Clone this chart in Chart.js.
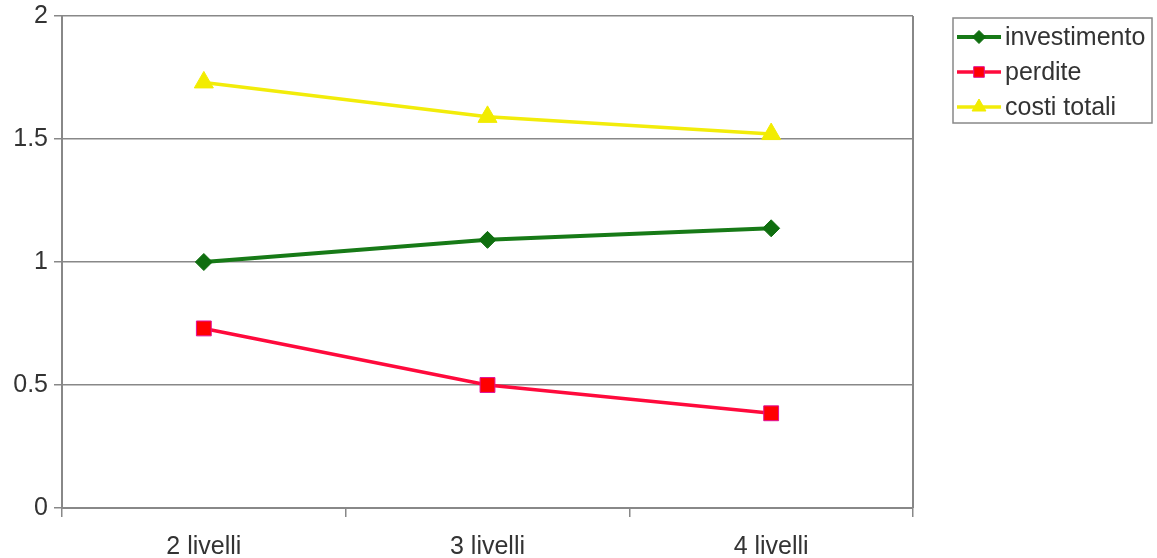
<!DOCTYPE html>
<html>
<head>
<meta charset="utf-8">
<script src="https://cdn.jsdelivr.net/npm/chart.js@4/dist/chart.umd.min.js"></script>
<style>
  html, body { margin: 0; padding: 0; background: #ffffff; }
  #c { display: block; }
</style>
</head>
<body>
<canvas id="c" width="1157" height="558"></canvas>
<script>
// Categories and series
const categories = ['2 livelli', '3 livelli', '4 livelli'];
const investimento = [1.0, 1.09, 1.137];
const perdite = [0.73, 0.5, 0.385];
const costiTotali = [1.73, 1.59, 1.52];
const yTicks = [0, 0.5, 1, 1.5, 2];

const FONT = '"Liberation Sans", Arial, Helvetica, sans-serif';
const TEXT = '#333333';
const GRID = '#888888';

// Legend marker sizes (smaller than the plotted markers)
const legendRadius = { rectRot: 6.5, rect: 7.5, triangle: 8 };

// Boxed legend at top right, each row shows a line sample with its marker
const boxedLegend = {
  id: 'boxedLegend',
  afterDraw(chart) {
    const ctx = chart.ctx;
    const x0 = 953, y0 = 18, w = 199, h = 105;
    ctx.save();
    ctx.fillStyle = '#ffffff';
    ctx.fillRect(x0, y0, w, h);
    ctx.strokeStyle = GRID;
    ctx.lineWidth = 1.5;
    ctx.strokeRect(x0, y0, w, h);
    const rows = [37, 72, 107];
    chart.data.datasets.forEach((ds, i) => {
      const y = rows[i];
      ctx.strokeStyle = ds.borderColor;
      ctx.lineWidth = ds.borderWidth;
      ctx.beginPath();
      ctx.moveTo(957, y);
      ctx.lineTo(1001, y);
      ctx.stroke();
      ctx.fillStyle = ds.pointBackgroundColor;
      ctx.strokeStyle = ds.pointBorderColor;
      ctx.lineWidth = 1;
      Chart.helpers.drawPoint(ctx, {
        pointStyle: ds.pointStyle,
        radius: legendRadius[ds.pointStyle],
        borderWidth: 1
      }, 979, y);
      ctx.fillStyle = TEXT;
      ctx.font = '25px ' + FONT;
      ctx.textBaseline = 'middle';
      ctx.textAlign = 'left';
      ctx.fillText(ds.label, 1005, y + 1);
    });
    ctx.restore();
  }
};

// Right-hand border of the plot area
const plotBorder = {
  id: 'plotBorder',
  afterDatasetsDraw(chart) {
    const { ctx, chartArea } = chart;
    ctx.save();
    ctx.strokeStyle = GRID;
    ctx.lineWidth = 2;
    ctx.beginPath();
    ctx.moveTo(chartArea.right, chartArea.top);
    ctx.lineTo(chartArea.right, chartArea.bottom);
    ctx.stroke();
    ctx.restore();
  }
};

new Chart(document.getElementById('c'), {
  type: 'line',
  data: {
    labels: categories,
    datasets: [
      {
        label: 'investimento',
        data: investimento,
        borderColor: '#177a17',
        borderWidth: 4,
        pointStyle: 'rectRot',
        pointRadius: 8.5,
        pointBackgroundColor: '#0f6e0f',
        pointBorderColor: '#0f6e0f',
        pointBorderWidth: 1,
        tension: 0
      },
      {
        label: 'perdite',
        data: perdite,
        borderColor: '#ff0a3c',
        borderWidth: 3.5,
        pointStyle: 'rect',
        pointRadius: 10.5,
        pointBackgroundColor: '#ff0000',
        pointBorderColor: '#e0109a',
        pointBorderWidth: 1,
        tension: 0
      },
      {
        label: 'costi totali',
        data: costiTotali,
        borderColor: '#f2ec0a',
        borderWidth: 3.5,
        pointStyle: 'triangle',
        pointRadius: 11,
        pointBackgroundColor: '#f2ec00',
        pointBorderColor: '#f2ec00',
        pointBorderWidth: 1,
        tension: 0
      }
    ]
  },
  options: {
    responsive: false,
    animation: false,
    devicePixelRatio: 1,
    layout: { padding: { left: 0, right: 244, top: 16, bottom: 0 } },
    plugins: {
      legend: { display: false },
      tooltip: { enabled: false }
    },
    scales: {
      x: {
        type: 'category',
        offset: true,
        grid: {
          offset: true,
          drawOnChartArea: false,
          drawTicks: true,
          tickLength: 9,
          color: GRID,
          lineWidth: 1.5
        },
        border: { display: true, color: GRID, width: 2 },
        ticks: {
          font: { family: FONT, size: 25 },
          color: TEXT,
          padding: 15
        },
        afterFit(scale) {
          scale.height = 50;
          scale.paddingLeft = 0;
          scale.paddingRight = 0;
        }
      },
      y: {
        min: 0,
        max: 2,
        afterBuildTicks(scale) {
          scale.ticks = yTicks.map(v => ({ value: v }));
        },
        grid: {
          color: GRID,
          lineWidth: 1.5,
          tickLength: 8,
          drawTicks: true
        },
        border: { display: true, color: GRID, width: 2 },
        ticks: {
          font: { family: FONT, size: 25 },
          color: TEXT,
          padding: 6,
          callback: v => String(v)
        },
        afterFit(scale) {
          scale.width = 62;
          scale.paddingTop = 0;
          scale.paddingBottom = 0;
        }
      }
    }
  },
  plugins: [plotBorder, boxedLegend]
});
</script>
</body>
</html>
